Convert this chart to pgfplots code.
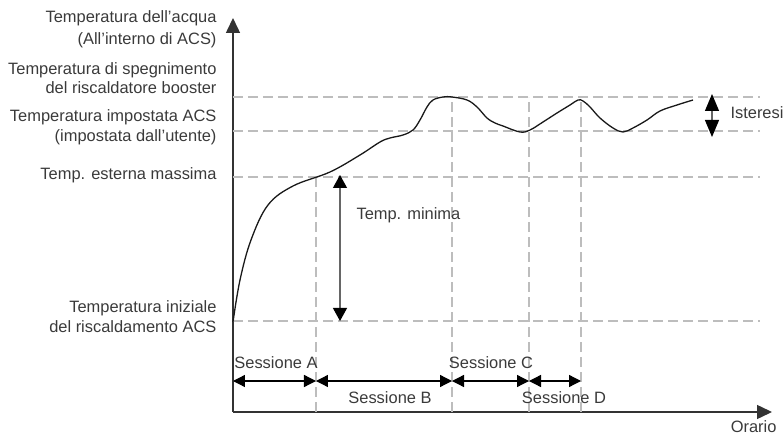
\documentclass[border=0pt]{standalone}
\usepackage{pgfplots}
\pgfplotsset{compat=1.18}
\usepackage{fontspec}
\setmainfont{Liberation Sans}
\usetikzlibrary{arrows.meta}
\definecolor{txt}{HTML}{3A3A3A}
\definecolor{gridc}{HTML}{BDBDBD}
\definecolor{axc}{HTML}{333333}
\begin{document}
\begin{tikzpicture}[font=\fontsize{16.5}{20}\selectfont]
\begin{axis}[
  scale only axis, width=539bp, height=394bp,
  xmin=0, xmax=539, ymin=0, ymax=394,
  axis lines=left,
  axis line style={axc, line width=1.5bp, -{Triangle[length=15bp,width=14bp]}},
  xtick=\empty, ytick=\empty,
  clip=false,
]
% reference dashed lines
\foreach \yy in {315,281,235,91}{
  \edef\tmp{\noexpand\draw[gridc, line width=1.2bp, dash pattern=on 10bp off 5bp] (axis cs:0,\yy) -- (axis cs:527,\yy);}\tmp
}
\draw[gridc, line width=1.2bp, dash pattern=on 10bp off 5bp] (axis cs:83,0) -- (axis cs:83,235);
\foreach \xx in {219,296,348}{
  \edef\tmp{\noexpand\draw[gridc, line width=1.2bp, dash pattern=on 10bp off 5bp] (axis cs:\xx,0) -- (axis cs:\xx,315);}\tmp
}
% temperature curve
\addplot[black!90, line width=1.3bp, smooth, tension=0.6] coordinates {
(0,90) (7,132) (18,172) (35,207) (60,226)
(97,240) (127,257) (147,270) (157,274) (170,277) (180,282) (187,292) (194,305)
(200,312) (210,315) (219,315) (234,312) (244,305) (254,294) (262,289) (270,286)
(287,280) (297,282) (310,290) (324,299) (337,307) (345,312) (350,311) (357,305)
(367,294) (380,284) (390,280) (400,284) (414,292) (427,301) (444,307) (460,312)
};
% session arrows
\draw[black, line width=1.3bp, {Triangle[length=12bp,width=12bp]}-{Triangle[length=12bp,width=12bp]}] (axis cs:0,31) -- (axis cs:83,31);
\draw[black, line width=1.3bp, {Triangle[length=12bp,width=12bp]}-{Triangle[length=12bp,width=12bp]}] (axis cs:83,31) -- (axis cs:219,31);
\draw[black, line width=1.3bp, {Triangle[length=12bp,width=12bp]}-{Triangle[length=12bp,width=12bp]}] (axis cs:219,31) -- (axis cs:296,31);
\draw[black, line width=1.3bp, {Triangle[length=12bp,width=12bp]}-{Triangle[length=12bp,width=12bp]}] (axis cs:296,31) -- (axis cs:348,31);
\node[txt] at (axis cs:43,49) {Sessione A};
\node[txt] at (axis cs:157,14) {Sessione B};
\node[txt] at (axis cs:258,49) {Sessione C};
\node[txt] at (axis cs:331,14) {Sessione D};
% temp minima arrow
\draw[gray!80!black, line width=1.2bp, {Triangle[length=13bp,width=14bp,color=black]}-{Triangle[length=13bp,width=14bp,color=black]}] (axis cs:107,91) -- (axis cs:107,237);
\node[txt, anchor=west] at (axis cs:120,197) {Temp. minima};
% isteresi arrow
\draw[gray!80!black, line width=1.2bp, {Triangle[length=17bp,width=14bp,color=black]}-{Triangle[length=17bp,width=14bp,color=black]}] (axis cs:479,275) -- (axis cs:479,318);
\node[txt, anchor=west] at (axis cs:494,299) {Isteresi};
% y labels
\begin{scope}[every node/.style={txt, anchor=east, text height=12bp, text depth=3.5bp}]
\node at (axis cs:-13,394) {Temperatura dell’acqua};
\node at (axis cs:-13,372) {(All'interno di ACS)};
\node at (axis cs:-13,342) {Temperatura di spegnimento};
\node at (axis cs:-13,323) {del riscaldatore booster};
\node at (axis cs:-13,295) {Temperatura impostata ACS};
\node at (axis cs:-13,275) {(impostata dall’utente)};
\node at (axis cs:-13,237) {Temp. esterna massima};
\node at (axis cs:-13,104) {Temperatura iniziale};
\node at (axis cs:-13,84) {del riscaldamento ACS};
\end{scope}
\node[txt, anchor=east, text height=12bp, text depth=3.5bp] at (axis cs:547,-16) {Orario};
\coordinate (bbA) at (axis cs:-233,-23);
\coordinate (bbB) at (axis cs:551,412);
\end{axis}
\pgfresetboundingbox
\path (bbA) rectangle (bbB);
\end{tikzpicture}
\end{document}
